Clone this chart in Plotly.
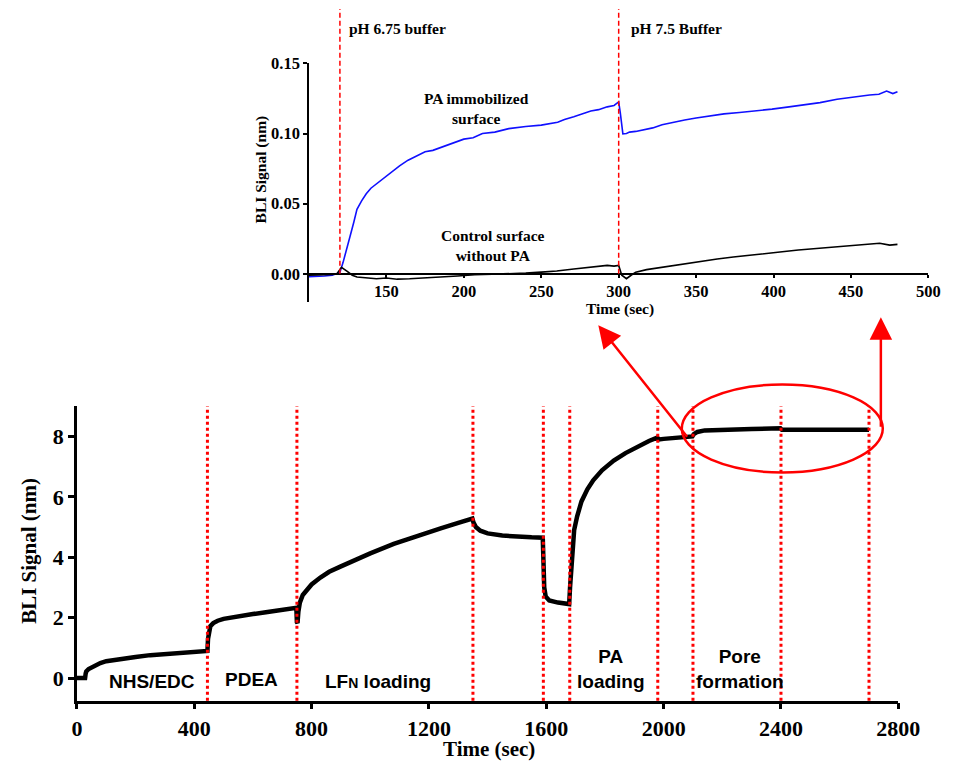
import plotly.graph_objects as go

# ---------------- data ----------------
# Main sensorgram (time in s, BLI signal in nm)
main_t = [0, 28, 30, 32, 40, 60, 80, 100, 150, 200, 250, 300, 350, 400, 445,
          447, 450, 455, 465, 480, 500, 550, 600, 650, 700, 748,
          750, 752, 755, 760, 770, 785, 800, 830, 860, 900, 950, 1000, 1080,
          1160, 1240, 1300, 1348,
          1352, 1360, 1375, 1400, 1450, 1500, 1550, 1588,
          1590, 1593, 1598, 1610, 1640, 1678,
          1681, 1688, 1695, 1705, 1720, 1740, 1760, 1790, 1830, 1870, 1910,
          1950, 1978,
          1985, 2000, 2050, 2098,
          2103, 2115, 2140, 2200, 2300, 2398,
          2403, 2500, 2600, 2700]
main_s = [0.0, 0.0, 0.15, 0.22, 0.30, 0.42, 0.50, 0.56, 0.64, 0.70, 0.76, 0.80, 0.84, 0.88, 0.90,
          1.30, 1.60, 1.72, 1.82, 1.90, 1.96, 2.05, 2.12, 2.19, 2.26, 2.33,
          1.85, 1.82, 2.20, 2.50, 2.75, 2.95, 3.10, 3.33, 3.52, 3.70, 3.93, 4.13, 4.44,
          4.71, 4.96, 5.14, 5.28,
          5.15, 5.00, 4.88, 4.79, 4.72, 4.68, 4.66, 4.65,
          4.00, 3.00, 2.70, 2.57, 2.50, 2.45,
          3.00, 4.20, 4.90, 5.35, 5.85, 6.25, 6.55, 6.88, 7.20, 7.45, 7.66,
          7.85, 7.96,
          7.90, 7.92, 7.96, 8.00,
          8.08, 8.15, 8.20, 8.23, 8.25, 8.27,
          8.22, 8.22, 8.22, 8.22]

# Step boundaries (s)
step_times = [445, 750, 1350, 1590, 1680, 1980, 2100, 2400, 2700]

# Step labels
step_labels = ["NHS/EDC", "PDEA", "LF<span style='font-size:14px'>N</span> loading",
               "PA<br>loading", "Pore<br>formation"]

# Inset: PA immobilized surface
pa_t = [100, 105, 110, 115, 118, 120, 122, 124, 126.6, 129, 131, 134, 137, 140, 143.6,
        147, 150, 154, 158.5, 164, 169, 175, 180, 185, 190, 195, 200, 206, 212,
        220, 229, 240, 250, 260.6, 265, 271, 277, 282, 287, 292.6, 297, 300,
        301, 302, 302.7, 305, 307, 311, 315, 322, 328, 335, 342.6, 350, 359,
        368, 378, 388, 399, 410, 420, 430, 441, 451, 462, 468, 473, 477, 480]
pa_s = [-0.002, -0.002, -0.0015, -0.001, 0.0, 0.001, 0.008, 0.017, 0.027, 0.037, 0.046,
        0.052, 0.057, 0.061, 0.064, 0.067, 0.070, 0.073, 0.077, 0.081, 0.084, 0.087,
        0.088, 0.090, 0.092, 0.094, 0.096, 0.097, 0.100, 0.101, 0.1035, 0.105, 0.106,
        0.108, 0.110, 0.112, 0.114, 0.116, 0.117, 0.119, 0.120, 0.1225,
        0.115, 0.105, 0.0998, 0.100, 0.101, 0.1015, 0.1026, 0.104, 0.1063, 0.108,
        0.1096, 0.111, 0.1127, 0.114, 0.115, 0.116, 0.1174, 0.119, 0.1204, 0.122,
        0.1244, 0.126, 0.1275, 0.128, 0.1303, 0.1285, 0.1298]

# Inset: control surface without PA
ctrl_t = [100, 105, 110, 115, 118, 120, 121, 124.5, 128, 131, 137, 143.6, 150, 157,
          165, 175, 186, 196, 207, 218, 229, 240, 250, 260, 271, 282, 292.6, 297, 300,
          302, 305, 308, 311, 318, 328, 335, 342.6, 352, 363.6, 374, 384.6, 395,
          405.6, 416, 426.5, 437, 447.5, 458, 468.5, 475, 480]
ctrl_s = [-0.001, -0.0008, -0.001, -0.0005, 0.0, 0.003, 0.0047, 0.002, -0.001, -0.0023,
          -0.003, -0.0035, -0.003, -0.0038, -0.0035, -0.003, -0.0023, -0.0015, -0.0007,
          -0.0004, 0.0, 0.0005, 0.0012, 0.002, 0.0035, 0.0045, 0.006, 0.0055, 0.006,
          -0.001, -0.0035, -0.001, 0.0012, 0.003, 0.0047, 0.006, 0.007, 0.009, 0.0106,
          0.012, 0.0134, 0.0146, 0.0157, 0.017, 0.018, 0.019, 0.020, 0.021, 0.0218,
          0.0205, 0.021]

inset_buffers = [120, 300]
inset_buffer_labels = ["pH 6.75 buffer", "pH 7.5 Buffer"]

# ---------------- layout helpers ----------------
W, H = 965, 763
def px(x):
    return x / W
def py(y):
    return 1 - y / H

main_xdom = [px(73), px(919)]
main_ydom = [py(700), py(402)]
main_yrange = [-0.75, 9.0]
ins_xdom = [px(312), px(950)]
ins_ydom = [py(296.4), py(55)]
ins_yrange = [-0.02, 0.15]
ins_zero = ins_ydom[0] + (0 - ins_yrange[0]) / (ins_yrange[1] - ins_yrange[0]) * (ins_ydom[1] - ins_ydom[0])

serif = "Liberation Serif"
sans = "Liberation Sans"

fig = go.Figure()
fig.add_trace(go.Scatter(x=main_t, y=main_s, mode="lines",
                         line=dict(color="black", width=4.5), xaxis="x", yaxis="y",
                         showlegend=False, hoverinfo="skip"))
fig.add_trace(go.Scatter(x=pa_t, y=pa_s, mode="lines",
                         line=dict(color="#1010ff", width=1.6), xaxis="x2", yaxis="y2",
                         showlegend=False, hoverinfo="skip"))
fig.add_trace(go.Scatter(x=ctrl_t, y=ctrl_s, mode="lines",
                         line=dict(color="black", width=1.6), xaxis="x2", yaxis="y2",
                         showlegend=False, hoverinfo="skip"))

shapes = []
for t in step_times:
    shapes.append(dict(type="line", xref="x", yref="y domain", x0=t, x1=t, y0=0, y1=1,
                       line=dict(color="red", width=3, dash="dot"), layer="above"))
for t in inset_buffers:
    shapes.append(dict(type="line", xref="x2", yref="paper", x0=t, x1=t, y0=ins_zero, y1=1.0,
                       line=dict(color="red", width=1.5, dash="5px,3px"), layer="above"))
# highlight ellipse
shapes.append(dict(type="circle", xref="paper", yref="paper",
                   x0=px(696), x1=px(903), y0=py(469), y1=py(380),
                   line=dict(color="red", width=2.5)))

annotations = []
# step labels in main plot
lab_pos = [(150, 681), (253, 679), (383, 681), (623, 668), (756, 668)]
for txt, (lx, ly) in zip(step_labels, lab_pos):
    annotations.append(dict(text=txt, xref="paper", yref="paper", x=px(lx), y=py(ly),
                            showarrow=False, xanchor="center", yanchor="middle",
                            font=dict(family=sans, size=19, color="black", weight="bold")))
# inset buffer labels
for txt, lx in zip(inset_buffer_labels, [351, 642]):
    annotations.append(dict(text=txt, xref="paper", yref="paper", x=px(lx), y=py(20),
                            showarrow=False, xanchor="left", yanchor="middle",
                            font=dict(family=serif, size=15.5, color="black", weight="bold")))
annotations.append(dict(text="PA immobilized<br>surface", xref="paper", yref="paper",
                        x=px(485), y=py(101), showarrow=False, xanchor="center", yanchor="middle",
                        font=dict(family=serif, size=15.5, color="black", weight="bold")))
annotations.append(dict(text="Control surface<br>without PA", xref="paper", yref="paper",
                        x=px(502), y=py(239), showarrow=False, xanchor="center", yanchor="middle",
                        font=dict(family=serif, size=15.5, color="black", weight="bold")))
# axis titles
annotations.append(dict(text="Time (sec)", xref="paper", yref="paper", x=px(497), y=py(749),
                        showarrow=False, xanchor="center", yanchor="middle",
                        font=dict(family=serif, size=21, color="black", weight="bold")))
annotations.append(dict(text="BLI Signal (nm)", xref="paper", yref="paper", x=px(23), y=py(548),
                        showarrow=False, xanchor="center", yanchor="middle", textangle=-90,
                        font=dict(family=serif, size=21, color="black", weight="bold")))
annotations.append(dict(text="Time (sec)", xref="paper", yref="paper", x=px(632), y=py(304),
                        showarrow=False, xanchor="center", yanchor="middle",
                        font=dict(family=serif, size=15.5, color="black", weight="bold")))
annotations.append(dict(text="BLI Signal (nm)", xref="paper", yref="paper", x=px(263), y=py(162),
                        showarrow=False, xanchor="center", yanchor="middle", textangle=-90,
                        font=dict(family=serif, size=15.5, color="black", weight="bold")))
# arrows
annotations.append(dict(text="", xref="paper", yref="paper", x=px(610), y=py(320),
                        ax=90, ay=113, showarrow=True, arrowhead=2, arrowsize=1.8,
                        arrowwidth=2.5, arrowcolor="red"))
annotations.append(dict(text="", xref="paper", yref="paper", x=px(901), y=py(312),
                        ax=0, ay=111, showarrow=True, arrowhead=2, arrowsize=1.8,
                        arrowwidth=2.5, arrowcolor="red"))

fig.update_layout(
    width=W, height=H, margin=dict(l=0, r=0, t=0, b=0),
    paper_bgcolor="white", plot_bgcolor="white",
    shapes=shapes, annotations=annotations,
    xaxis=dict(domain=main_xdom, range=[0, 2800], tickvals=[0, 400, 800, 1200, 1600, 2000, 2400, 2800],
               showline=True, linecolor="black", linewidth=2.5, ticks="outside", ticklen=6,
               tickwidth=2.5, tickcolor="black", showgrid=False, zeroline=False,
               tickfont=dict(family=serif, size=22, color="black", weight="bold"), anchor="y"),
    yaxis=dict(domain=main_ydom, range=main_yrange, tickvals=[0, 2, 4, 6, 8],
               showline=True, linecolor="black", linewidth=2.5, ticks="outside", ticklen=6,
               tickwidth=2.5, tickcolor="black", showgrid=False, zeroline=False,
               tickfont=dict(family=serif, size=22, color="black", weight="bold"), anchor="x"),
    xaxis2=dict(domain=ins_xdom, range=[100, 500], tickvals=[150, 200, 250, 300, 350, 400, 450, 500],
                showline=True, linecolor="black", linewidth=1.5, ticks="outside", ticklen=3,
                tickwidth=1.5, tickcolor="black", showgrid=False, zeroline=False,
                tickfont=dict(family=serif, size=16.5, color="black", weight="bold"),
                anchor="free", position=ins_zero),
    yaxis2=dict(domain=ins_ydom, range=ins_yrange, tickvals=[0, 0.05, 0.10, 0.15],
                ticktext=["0.00", "0.05", "0.10", "0.15"],
                showline=True, linecolor="black", linewidth=1.5, ticks="outside", ticklen=4,
                tickwidth=1.5, tickcolor="black", showgrid=False, zeroline=False,
                tickfont=dict(family=serif, size=16.5, color="black", weight="bold"), anchor="x2"),
)

fig.write_html("out.html")
